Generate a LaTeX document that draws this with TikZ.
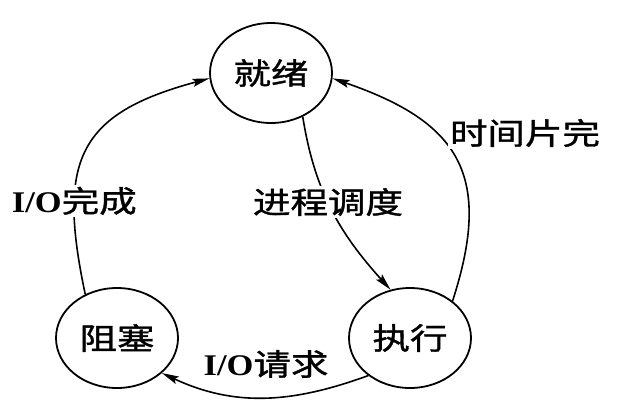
\documentclass[tikz,border=0pt]{standalone}
\usepackage{fontspec}
\usetikzlibrary{shapes.geometric,arrows.meta}
\newfontfamily\cjk[FakeStretch=1.25,FakeBold=1.2]{Noto Sans CJK SC}
\newfontfamily\lat[FakeStretch=1.15]{Liberation Serif}
\def\io{{\lat\bfseries I/O}}

\tikzset{
  state/.style={ellipse,draw,line width=1.8pt,minimum width=122pt,minimum height=100pt,inner sep=0pt,font=\cjk\fontsize{30}{30}\selectfont},
  trans/.style={line width=1.6pt,-{Stealth[length=17pt,width=8pt,inset=3pt]}},
  lbl/.style={fill=white,inner sep=2pt,font=\cjk\fontsize{30}{30}\selectfont}
}

\begin{document}
\begin{tikzpicture}[x=1pt,y=-1pt]
    \useasboundingbox (0,0) rectangle (631,413);
    % states
    \node[state] (jx) at (271,73){就绪};
    \node[state] (zs) at (117,338){阻塞};
    \node[state] (zx) at (410,338){执行};
    % transitions
    \draw[trans] (zs.126) to[out=102,in=195,looseness=1.4] node[lbl,pos=0.28] (wc){\io 完成} (jx.185);
    \draw[trans] (jx.-54) to[out=-81,in=132] node[lbl,pos=0.45] (dd){进程调度} (zx.112);
    \draw[trans] (zx.41) to[out=72,in=-19,looseness=1.35] (jx.-5);
    \draw[trans] (zx.222) to[out=200,in=-25] (zs.-38);
    \node[lbl] (sj) at (525,133){时间片完};
    \node[lbl] (qq) at (266,364){\io 请求};
\end{tikzpicture}
\end{document}
